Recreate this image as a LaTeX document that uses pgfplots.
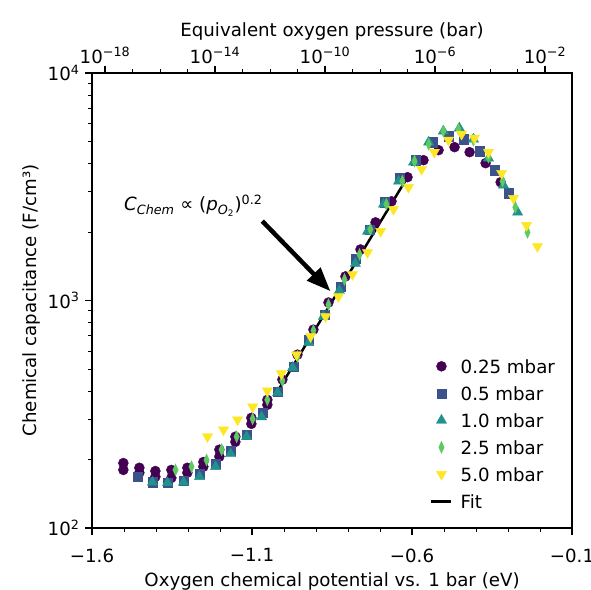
\documentclass[border=0pt]{standalone}
\usepackage{fontspec}
\setmainfont{DejaVu Sans}
\usepackage{pgfplots}
\pgfplotsset{compat=1.18}
\usetikzlibrary{arrows.meta}
\definecolor{c1}{HTML}{440154}
\definecolor{c2}{HTML}{3B528B}
\definecolor{c3}{HTML}{21918C}
\definecolor{c4}{HTML}{5EC962}
\definecolor{c5}{HTML}{FDE725}
\begin{document}
\begin{tikzpicture}[font=\fontsize{18.2}{21}\selectfont]
\useasboundingbox (-92pt,-61pt) rectangle (499pt,528pt);
% top axis: equivalent oxygen pressure
\begin{axis}[
  at={(0pt,0pt)}, anchor=south west, scale only axis,
  width=480pt, height=455pt,
  xmode=log, xmin=3.365e-19, xmax=0.0959,
  ymin=0, ymax=1,
  axis x line*=top, hide y axis,
  axis line style={line width=1.6pt},
  tick align=outside,
  major tick length=7pt, minor tick length=4pt,
  every major tick/.append style={black, line width=1.3pt},
  every minor tick/.append style={black, line width=0.9pt},
  xtick={1e-18,1e-14,1e-10,1e-6,1e-2},
  xticklabels={10\textsuperscript{−18},10\textsuperscript{−14},10\textsuperscript{−10},10\textsuperscript{−6},10\textsuperscript{−2}},
  xticklabel style={yshift=-1pt},
  minor xtick={1e-17,1e-16,1e-15,1e-13,1e-12,1e-11,1e-9,1e-8,1e-7,1e-5,1e-4,1e-3},
  xlabel={Equivalent oxygen pressure (bar)},
  xlabel style={at={(axis description cs:0.5,1.0791)}, anchor=base},
]
\end{axis}
% main axis
\begin{axis}[
  at={(0pt,0pt)}, anchor=south west, scale only axis,
  width=480pt, height=455pt,
  xmin=-1.6, xmax=-0.1, ymode=log, ymin=100, ymax=10000,
  xtick={-1.6,-1.1,-0.6,-0.1},
  xticklabels={−1.6,−1.1,−0.6,−0.1},
  minor x tick num=4,
  ytick={100,1000,10000},
  yticklabels={10\textsuperscript{2},10\textsuperscript{3},10\textsuperscript{4}},
  xtick pos=lower, ytick pos=left, tick align=outside,
  major tick length=7pt, minor tick length=4pt,
  every major tick/.append style={black, line width=1.3pt},
  every minor tick/.append style={black, line width=0.9pt},
  axis line style={line width=1.6pt},
  xticklabel style={yshift=-10pt},
  yticklabel style={xshift=-2pt},
  xlabel={Oxygen chemical potential vs. 1 bar (eV)},
  xlabel style={at={(axis description cs:0.5,0)}, anchor=base, yshift=-59pt},
  ylabel={Chemical capacitance (F/cm³)},
  ylabel style={at={(axis description cs:-0.1146,0.5)}, anchor=base, rotate=0},
  legend image code/.code={\path (0pt,0pt) (28pt,0pt);\draw[mark repeat=2,mark phase=2,#1] plot coordinates {(0pt,0pt) (10pt,0pt) (20pt,0pt)};},
  legend style={draw=none, fill=none, inner sep=0pt, row sep=13.5pt,
    at={(axis description cs:0.7042,0.0434)}, anchor=south west,
    nodes={inner sep=0pt, text height=13.5pt, text depth=0pt},
    cells={anchor=west}},
]
\addplot[only marks, mark=*, mark size=5pt, color=c1] coordinates {
(-1.502,193) (-1.502,180) (-1.452,184) (-1.452,175) (-1.402,178) (-1.402,168)
(-1.352,180) (-1.352,166) (-1.302,184) (-1.302,175) (-1.252,195) (-1.252,186)
(-1.202,221) (-1.202,206) (-1.152,252) (-1.152,239) (-1.102,305) (-1.102,287)
(-1.052,366) (-1.052,348) (-1.005,449) (-0.958,578) (-0.908,745) (-0.861,980)
(-0.808,1276) (-0.761,1677) (-0.714,2206) (-0.664,2730) (-0.614,3483)
(-0.564,4138) (-0.517,4580) (-0.467,4721) (-0.420,4487) (-0.370,4014) (-0.323,3311)
};
\addlegendentry{0.25 mbar}
\addplot[only marks, mark=square*, mark size=4.6pt, color=c2] coordinates {
(-1.458,168) (-1.411,159) (-1.364,158) (-1.314,161) (-1.264,173) (-1.214,191)
(-1.167,218) (-1.117,257) (-1.067,321) (-1.020,397) (-0.970,512) (-0.923,673)
(-0.873,868) (-0.823,1153) (-0.777,1531) (-0.733,2055) (-0.686,2702) (-0.639,3447)
(-0.589,4138) (-0.536,4966) (-0.486,5278) (-0.439,5120) (-0.389,4534) (-0.342,3738)
(-0.298,2961)
};
\addlegendentry{0.5 mbar}
\addplot[only marks, mark=triangle*, mark size=5.9pt, color=c3] coordinates {
(-1.411,159) (-1.364,158) (-1.314,159) (-1.264,168) (-1.214,186) (-1.167,212)
(-1.117,252) (-1.070,308) (-1.020,393) (-0.973,507) (-0.923,653) (-0.877,850)
(-0.827,1107) (-0.777,1455) (-0.739,2014) (-0.689,2648) (-0.642,3344) (-0.595,4055)
(-0.548,4966) (-0.502,5553) (-0.452,5725) (-0.408,5120) (-0.361,4223) (-0.314,3211)
(-0.270,2442)
};
\addlegendentry{1.0 mbar}
\addplot[only marks, mark=diamond*, mark size=6pt, color=c4, mark options={xscale=0.6}] coordinates {
(-1.339,180) (-1.289,186) (-1.242,199) (-1.195,221) (-1.148,252) (-1.098,302)
(-1.052,366) (-1.005,444) (-0.958,567) (-0.908,738) (-0.861,960) (-0.811,1238)
(-0.764,1594) (-0.730,2055) (-0.680,2648) (-0.630,3344) (-0.592,4096) (-0.548,4867)
(-0.502,5553) (-0.455,5667) (-0.408,5068) (-0.361,4266) (-0.317,3344) (-0.277,2568)
(-0.239,1994)
};
\addlegendentry{2.5 mbar}
\addplot[only marks, mark=triangle*, mark size=5.9pt, color=c5, mark options={rotate=180}] coordinates {
(-1.239,252) (-1.189,270) (-1.145,299) (-1.098,341) (-1.052,401) (-1.008,477)
(-0.961,578) (-0.917,694) (-0.870,850) (-0.830,1041) (-0.786,1302) (-0.739,1627)
(-0.698,2014) (-0.658,2517) (-0.611,3146) (-0.570,3776) (-0.530,4487) (-0.486,5068)
(-0.445,5386) (-0.405,5172) (-0.361,4487) (-0.320,3626) (-0.283,2814) (-0.242,2140)
(-0.208,1729)
};
\addlegendentry{5.0 mbar}
\addplot[black, line width=2.5pt, no marks] coordinates {(-1.023,393) (-0.614,3483)};
\addlegendentry{Fit}
\node[anchor=base west, inner sep=0pt] at (axis cs:-1.50,2474)
  {\textit{C}\textsubscript{\textit{Chem}} ∝ (\textit{p}\textsubscript{\textit{O}\textsubscript{2}})\textsuperscript{0.2}};
\draw[line width=4.5pt, -{Triangle[length=24pt,width=18pt]}] (axis cs:-1.068,2234) -- (axis cs:-0.855,1099);
\end{axis}
\end{tikzpicture}
\end{document}
